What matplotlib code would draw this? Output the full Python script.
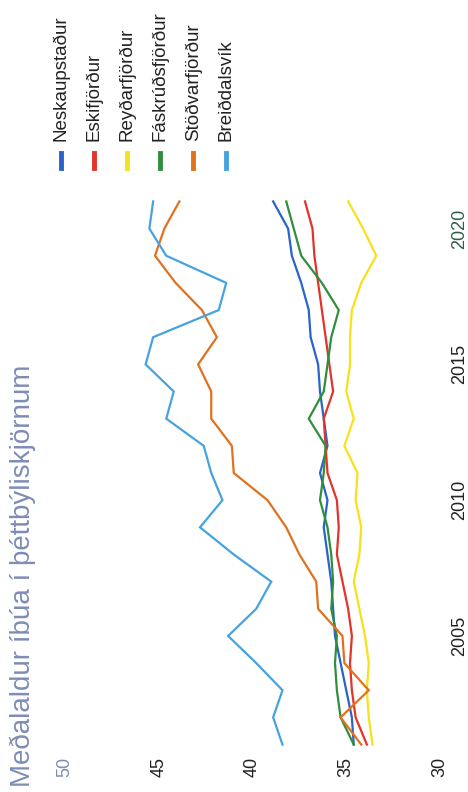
import matplotlib
matplotlib.use("Agg")
import matplotlib.pyplot as plt
from matplotlib.lines import Line2D

plt.rcParams['font.family'] = ['Liberation Sans', 'DejaVu Sans']

years = list(range(2001, 2022))
series_names = ["Neskaupstaður", "Eskifjörður", "Reyðarfjörður",
                "Fáskrúðsfjörður", "Stöðvarfjörður", "Breiðdalsvík"]
colors = ["#2a63c9", "#e2342a", "#f7e11c", "#2f8f3c", "#e2711f", "#46a3df"]

neskaupstadur = [34.6, 34.7, 35.0, 35.3, 35.6, 35.7, 35.8, 36.0, 36.2, 36.0, 36.4,
                 36.0, 36.2, 36.4, 36.5, 36.9, 37.0, 37.4, 37.9, 38.1, 38.9]
eskifjordur = [33.9, 34.5, 34.7, 34.8, 34.7, 34.9, 35.2, 35.5, 35.4, 35.5, 36.0,
               36.1, 36.2, 35.7, 35.9, 36.1, 36.3, 36.5, 36.7, 36.8, 37.2]
reydarfjordur = [33.6, 33.8, 33.9, 33.8, 34.0, 34.3, 34.6, 34.3, 34.2, 34.5, 34.4,
                 35.1, 34.6, 35.0, 34.8, 34.8, 34.7, 34.2, 33.4, 34.1, 34.9]
faskrudsfjordur = [34.6, 35.3, 35.5, 35.6, 35.5, 35.8, 35.7, 35.8, 36.0, 36.4, 36.2,
                   36.1, 37.0, 36.2, 36.0, 35.8, 35.4, 36.3, 37.4, 37.8, 38.2]
stodvarfjordur = [34.2, 35.3, 33.8, 35.1, 35.2, 36.5, 36.6, 37.5, 38.2, 39.2, 41.0,
                  41.1, 42.2, 42.2, 42.9, 41.9, 42.7, 44.1, 45.2, 44.7, 43.9]
breiddalsvik = [38.4, 38.9, 38.4, 39.8, 41.3, 39.8, 39.0, 41.0, 42.8, 41.6, 42.2,
                42.6, 44.6, 44.2, 45.7, 45.3, 41.8, 41.4, 44.6, 45.5, 45.3]
series = [neskaupstadur, eskifjordur, reydarfjordur, faskrudsfjordur,
          stodvarfjordur, breiddalsvik]

age_ticks = [50, 45, 40, 35, 30]
year_ticks = [2005, 2010, 2015, 2020]
title = "Meðalaldur íbúa í þéttbýliskjörnum"

W, H = 468, 792
fig = plt.figure(figsize=(W / 100, H / 100), dpi=100)
fig.patch.set_facecolor("white")
ax = fig.add_axes([65 / W, 42 / H, 375 / W, 554 / H])

# rotated chart: age on horizontal axis (inverted), year on vertical axis
for vals, col in zip(series, colors):
    ax.plot(vals, years, color=col, lw=1.6, solid_joinstyle='miter')

ax.set_xlim(50, 30)
ax.set_ylim(2000.8, 2021.2)
for s in ax.spines.values():
    s.set_visible(False)

ax.set_xticks(age_ticks)
ax.set_xticklabels([str(a) for a in age_ticks], rotation=90)
ax.tick_params(axis='x', length=0, pad=5, labelsize=13, labelcolor="#222222")
ax.xaxis.get_ticklabels()[0].set_color("#7f8db5")

ax.yaxis.tick_right()
ax.set_yticks(year_ticks)
ax.set_yticklabels([str(y) for y in year_ticks])
ax.tick_params(axis='y', length=0, pad=8, labelsize=13, labelcolor="#222222")
for lbl in ax.get_yticklabels():
    lbl.set_rotation(90)
    lbl.set_va('center')
ax.get_yticklabels()[-1].set_color("#2e5e4a")

# legend (rotated)
for i, (name, col) in enumerate(zip(series_names, colors)):
    x = (61 + 33 * i) / W
    fig.add_artist(Line2D([x, x], [1 - 168 / H, 1 - 153 / H], color=col, lw=3.5,
                          transform=fig.transFigure))
    fig.text(x, 1 - 141 / H, name, rotation=90, ha='center', va='bottom',
             fontsize=13.5, color="#222222")

fig.text(23 / W, 5 / H, title, rotation=90, ha='center', va='bottom',
         fontsize=20, color="#7f8db5")

fig.savefig("out.png", dpi=100, facecolor="white")
